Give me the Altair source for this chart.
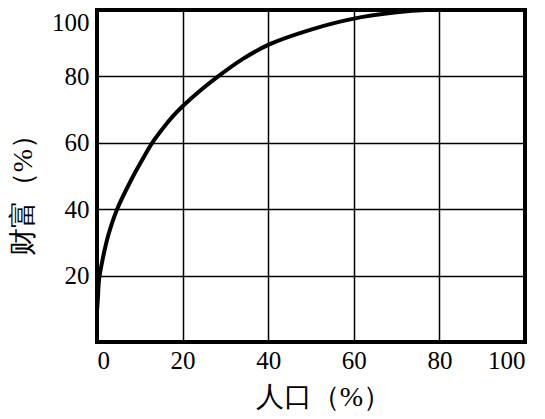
import altair as alt
import pandas as pd

# Curve (population % vs wealth %)
population = [0, 0.2, 0.5, 1.5, 2.6, 4.7, 8.3, 10.4, 12.9, 15.3, 17.6, 20, 24, 28.3, 34, 40, 50, 60, 70, 77, 80, 100]
wealth = [9.4, 13, 19, 26, 32, 40, 49.6, 54.5, 60, 64.2, 67.8, 71, 75.6, 80, 85.2, 89.5, 94.1, 97.4, 99.3, 100, 100, 100]

x_ticks = [0, 20, 40, 60, 80, 100]
y_ticks = [20, 40, 60, 80, 100]

df = pd.DataFrame({"x": population, "y": wealth})

FONT = "Liberation Serif"

chart = alt.Chart(df).mark_line(
    color="black", strokeWidth=4, interpolate="catmull-rom"
).encode(
    x=alt.X(
        "x:Q",
        scale=alt.Scale(domain=[0, 100], nice=False),
        axis=alt.Axis(
            values=x_ticks,
            title="人口（%）",
            titleX=226,
            titleY=55,
            titleBaseline="middle",
            labelPadding=6,
            labelFont=FONT,
            titleFont=FONT,
        ),
    ),
    y=alt.Y(
        "y:Q",
        scale=alt.Scale(domain=[0, 100], nice=False),
        axis=alt.Axis(
            values=y_ticks,
            title="财富（%）",
            titleX=-60,
            titleY=178,
            titleBaseline="bottom",
            labelFlush=True,
            labelPadding=8,
            labelFont=FONT,
            titleFont=FONT,
        ),
    ),
    order="x:Q",
).properties(
    width=428,
    height=332,
    autosize=alt.AutoSizeParams(type="none"),
    padding={"left": 89, "top": 2, "right": 12, "bottom": 69},
).configure(
    font=FONT
).configure_view(
    stroke="black", strokeWidth=4
).configure_axis(
    domain=False,
    ticks=False,
    grid=True,
    gridColor="black",
    gridWidth=1.5,
    gridOpacity=1,
    labelFontSize=25,
    labelColor="black",
    titleFontSize=28,
    titleFontWeight="normal",
    titleColor="black",
)

chart.save("out.html", embed_options={"renderer": "svg", "actions": False})
